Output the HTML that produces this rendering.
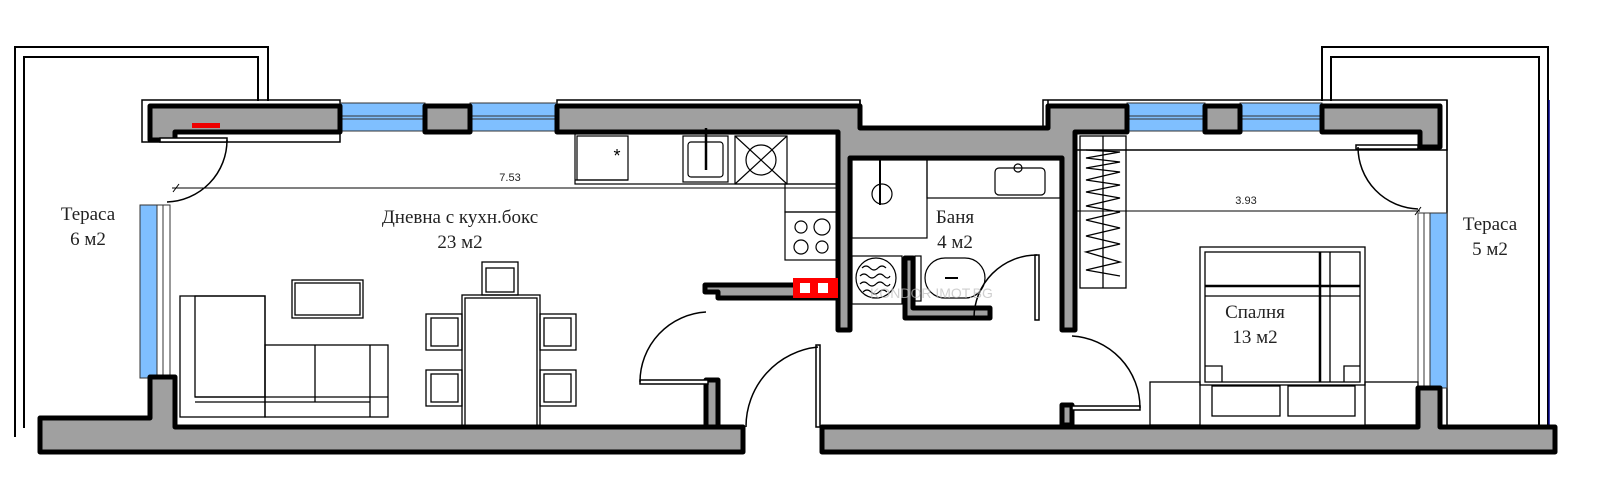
<!DOCTYPE html>
<html><head><meta charset="utf-8"><style>
html,body{margin:0;padding:0;background:#fff;}
svg{display:block}
.t{font-family:"Liberation Serif",serif;font-size:19px;fill:#222;text-anchor:middle}
.d{font-family:"Liberation Sans",sans-serif;font-size:11px;fill:#222;text-anchor:middle}
</style></head><body>
<svg width="1600" height="502" viewBox="0 0 1600 502" xmlns="http://www.w3.org/2000/svg">
<rect width="1600" height="502" fill="#fff"/>
<g fill="none" stroke="#000" stroke-width="2">
<!-- terraces -->
<polyline points="15,437 15,47 268,47 268,101"/>
<polyline points="24,428 24,57 258,57 258,101"/>
<polyline points="1322,101 1322,47 1548,47 1548,440"/>
<polyline points="1331,101 1331,57 1539,57 1539,430"/>
<rect x="142" y="100" width="198" height="42" stroke-width="1.5"/>
<rect x="1043" y="100" width="404" height="50" stroke-width="1.5"/>
<line x1="1447" y1="100" x2="1447" y2="440" stroke-width="1.5"/>
<rect x="557" y="100" width="303" height="10" stroke-width="1.5"/>
<polyline points="860,100 860,128 1048,128 1048,100" stroke-width="1.5"/>
</g>
<line x1="1549" y1="100" x2="1549" y2="440" stroke="#00008b" stroke-width="1.5"/>
<!-- windows -->
<g fill="#7fbfff" stroke="#333" stroke-width="1">
<rect x="340" y="103" width="85" height="28"/>
<rect x="470" y="103" width="87" height="28"/>
<rect x="1127" y="103" width="78" height="28"/>
<rect x="1240" y="103" width="82" height="28"/>
<rect x="140" y="205" width="17" height="173"/>
<rect x="1430" y="213" width="17" height="175"/>
</g>
<g stroke="#333" stroke-width="1" fill="none">
<line x1="340" y1="116" x2="425" y2="116"/><line x1="340" y1="119" x2="425" y2="119"/>
<line x1="470" y1="116" x2="557" y2="116"/><line x1="470" y1="119" x2="557" y2="119"/>
<line x1="1127" y1="116" x2="1205" y2="116"/><line x1="1127" y1="119" x2="1205" y2="119"/>
<line x1="1240" y1="116" x2="1322" y2="116"/><line x1="1240" y1="119" x2="1322" y2="119"/>
<rect x="157" y="205" width="13" height="173"/><line x1="163" y1="205" x2="163" y2="378"/>
<rect x="1418" y="213" width="12" height="175"/><line x1="1424" y1="213" x2="1424" y2="388"/>
</g>
<!-- walls -->
<g fill="#a0a0a0" stroke="#000" stroke-width="5" stroke-linejoin="round">
<path d="M150,106 L340,106 L340,132 L175,132 L175,140 L150,140 Z"/>
<rect x="425" y="106" width="45" height="26"/>
<path d="M557,106 L860,106 L860,128 L1048,128 L1048,106 L1127,106 L1127,132 L1075,132 L1075,330 L1062,330 L1062,158 L850,158 L850,330 L838,330 L838,132 L557,132 Z"/>
<rect x="1205" y="106" width="35" height="26"/>
<path d="M1322,106 L1440,106 L1440,147 L1420,147 L1420,132 L1322,132 Z"/>
<path d="M40,418 L150,418 L150,377 L175,377 L175,427 L743,427 L743,452 L40,452 Z"/>
<path d="M822,427 L1418,427 L1418,388 L1440,388 L1440,427 L1555,427 L1555,452 L822,452 Z"/>
<path d="M705,285 L838,285 L838,298 L718,298 L718,292 L705,292 Z"/>
<path d="M905,258 L913,258 L913,308 L990,308 L990,318 L905,318 Z"/>
<rect x="706" y="380" width="12" height="47"/>
<rect x="1062" y="405" width="10" height="20"/>
</g>
<!-- doors -->
<g fill="none" stroke="#000" stroke-width="1.5">
<rect x="160" y="138" width="67" height="4" fill="#fff"/>
<path d="M227,140 A62,62 0 0 1 167,202"/>
<rect x="640" y="380" width="68" height="4" fill="#fff"/>
<path d="M640,382 A70,70 0 0 1 706,312"/>
<rect x="816" y="345" width="4" height="82" fill="#fff"/>
<path d="M818,347 A80,80 0 0 0 746,427"/>
<rect x="1035" y="255" width="4" height="65" fill="#fff"/>
<path d="M1037,255 A63,63 0 0 0 974,318"/>
<rect x="1072" y="406" width="68" height="4" fill="#fff"/>
<path d="M1140,408 A72,72 0 0 0 1072,336"/>
<rect x="1356" y="145" width="62" height="4" fill="#fff"/>
<path d="M1358,147 A62,62 0 0 0 1418,209"/>
</g>
<!-- dimensions -->
<g stroke="#000" stroke-width="1">
<line x1="172" y1="188" x2="838" y2="188"/>
<line x1="1075" y1="211" x2="1420" y2="211"/>
<line x1="173" y1="192" x2="179" y2="184"/>
<line x1="1415" y1="215" x2="1421" y2="207"/>
</g>
<text class="d" x="510" y="181">7.53</text>
<text class="d" x="1246" y="204">3.93</text>
<!-- kitchen -->
<g fill="none" stroke="#000" stroke-width="1.2">
<rect x="575" y="134" width="263" height="50"/>
<line x1="575" y1="180" x2="628" y2="180"/>
<rect x="577" y="136" width="51" height="44"/>
<rect x="683" y="136" width="45" height="46"/>
<rect x="688" y="142" width="35" height="35" rx="3"/>
<line x1="706" y1="128" x2="706" y2="170" stroke-width="2.5"/>
<rect x="735" y="136" width="52" height="48"/>
<line x1="735" y1="136" x2="787" y2="184"/><line x1="787" y1="136" x2="735" y2="184"/>
<circle cx="761" cy="160" r="15"/>
<rect x="785" y="184" width="53" height="28"/>
<rect x="785" y="212" width="53" height="48"/>
<circle cx="801" cy="227" r="6"/><circle cx="822" cy="227" r="8"/>
<circle cx="801" cy="247" r="7"/><circle cx="822" cy="247" r="6"/>
</g>
<text x="617" y="162" font-family="Liberation Sans,sans-serif" font-size="18" text-anchor="middle">*</text>
<rect x="793" y="278" width="45" height="20" fill="#f00"/>
<rect x="800" y="283" width="10" height="10" fill="#fff"/>
<rect x="818" y="283" width="10" height="10" fill="#fff"/>
<rect x="192" y="123" width="28" height="5" fill="#e00"/>
<!-- living -->
<g fill="none" stroke="#000" stroke-width="1.3">
<rect x="180" y="296" width="85" height="121"/>
<rect x="195" y="296" width="70" height="101"/>
<rect x="265" y="345" width="123" height="72"/>
<line x1="195" y1="397" x2="388" y2="397"/><line x1="195" y1="402" x2="370" y2="402"/>
<line x1="315" y1="345" x2="315" y2="402"/><line x1="370" y1="345" x2="370" y2="417"/>
<rect x="292" y="280" width="71" height="38"/><rect x="295" y="283" width="65" height="32"/>
<rect x="462" y="295" width="78" height="132"/><rect x="465" y="298" width="72" height="129"/>
<rect x="482" y="262" width="36" height="33"/><rect x="486" y="268" width="28" height="24"/>
<rect x="426" y="314" width="36" height="36"/><rect x="431" y="318" width="27" height="28"/>
<rect x="426" y="370" width="36" height="36"/><rect x="431" y="374" width="27" height="28"/>
<rect x="540" y="314" width="36" height="36"/><rect x="544" y="318" width="27" height="28"/>
<rect x="540" y="370" width="36" height="36"/><rect x="544" y="374" width="27" height="28"/>
</g>
<!-- bathroom -->
<g fill="none" stroke="#000" stroke-width="1.2">
<rect x="852" y="160" width="75" height="78"/>
<line x1="880" y1="160" x2="880" y2="205" stroke-width="2"/>
<circle cx="882" cy="194" r="10"/>
<rect x="927" y="160" width="133" height="38"/>
<rect x="995" y="168" width="50" height="27" rx="4"/>
<circle cx="1018" cy="168" r="4"/>
<rect x="915" y="256" width="6" height="45"/>
<rect x="925" y="258" width="60" height="40" rx="20"/>
<line x1="945" y1="278" x2="958" y2="278" stroke-width="2"/>
<rect x="852" y="256" width="50" height="48"/>
<circle cx="876" cy="278" r="20"/>
<path d="M862,268 q4,-4 8,0 t8,0 t8,0 M860,276 q4,-4 8,0 t8,0 t8,0 t6,0 M860,284 q4,-4 8,0 t8,0 t8,0 t6,0 M863,292 q4,-4 8,0 t8,0 t8,0"/>
</g>
<text x="870" y="298" font-family="Liberation Sans,sans-serif" font-size="14" fill="#bbb" opacity=".7">KONDOR IMOT.BG</text>
<!-- bedroom -->
<g fill="none" stroke="#000" stroke-width="1.3">
<rect x="1080" y="136" width="46" height="152"/>
<line x1="1103" y1="136" x2="1103" y2="288"/>
<path d="M1086,150 L1120,152 L1086,158 L1120,162 L1086,168 L1120,172 L1086,180 L1120,185 L1086,192 L1120,198 L1086,206 L1120,212 L1086,220 L1120,228 L1086,236 L1120,244 L1086,252 L1120,262 L1086,270 L1120,276"/>
<rect x="1200" y="247" width="165" height="138"/>
<rect x="1205" y="252" width="155" height="130"/>
<line x1="1205" y1="286" x2="1360" y2="286" stroke-width="2.5"/>
<line x1="1205" y1="296" x2="1360" y2="296"/>
<line x1="1320" y1="252" x2="1320" y2="382" stroke-width="2.5"/>
<line x1="1330" y1="252" x2="1330" y2="382"/>
<path d="M1205,366 L1222,366 L1222,382 M1360,366 L1344,366 L1344,382"/>
<rect x="1150" y="382" width="50" height="43"/>
<rect x="1365" y="382" width="53" height="43"/>
<rect x="1212" y="386" width="68" height="30"/>
<rect x="1288" y="386" width="67" height="30"/>
</g>
<!-- labels -->
<text class="t" x="88" y="220">Тераса</text>
<text class="t" x="88" y="245">6 м2</text>
<text class="t" x="460" y="223">Дневна с кухн.бокс</text>
<text class="t" x="460" y="248">23 м2</text>
<text class="t" x="955" y="223">Баня</text>
<text class="t" x="955" y="248">4 м2</text>
<text class="t" x="1255" y="318">Спалня</text>
<text class="t" x="1255" y="343">13 м2</text>
<text class="t" x="1490" y="230">Тераса</text>
<text class="t" x="1490" y="255">5 м2</text>
</svg>
</body></html>
